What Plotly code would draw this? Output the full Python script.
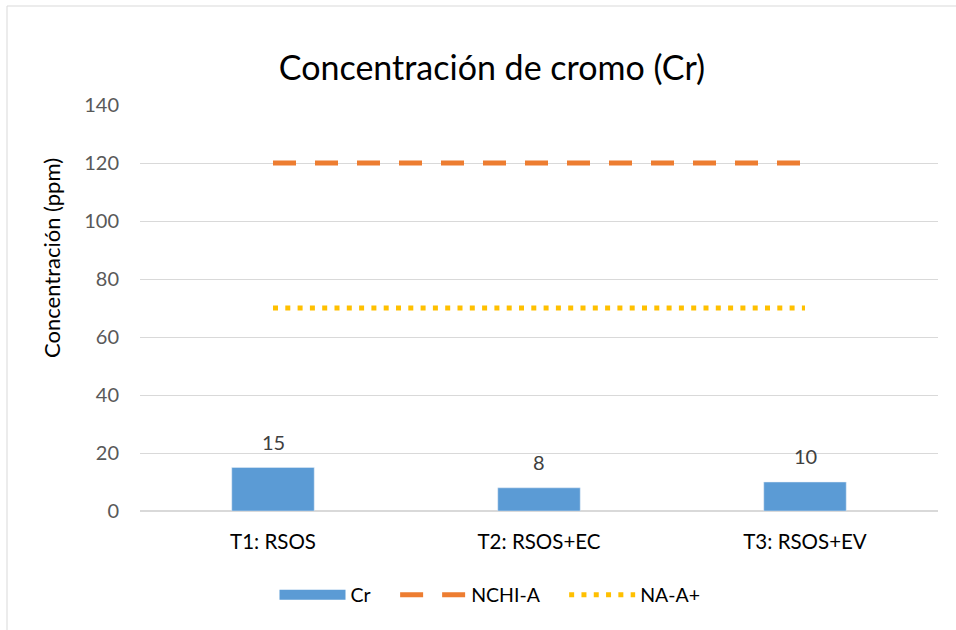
import plotly.graph_objects as go

# Concentración de cromo por tratamiento
tratamientos = ["T1: RSOS", "T2: RSOS+EC", "T3: RSOS+EV"]
cr = [15, 8, 10]
nchi_a = [120, 120, 120]
na_a_plus = [70, 70, 70]

fuente = "Lato"

px_l, px_r, px_t, px_b = 140, 938, 105, 511  # área de trazado en pantalla
ancho_p = px_r - px_l
alto_p = px_b - px_t
relleno = "\u00a0" * 4  # separación entre elementos de la leyenda

fig = go.Figure()

fig.add_trace(go.Bar(x=tratamientos, y=cr, name="Cr", marker_color="#5B9BD5",
                     showlegend=False))
# muestra de leyenda para las barras (rectángulo ancho como en Excel)
fig.add_trace(go.Scatter(x=[None], y=[None], name="Cr" + relleno, mode="lines",
                         line=dict(color="#5B9BD5", width=14)))

fig.add_trace(go.Scatter(x=tratamientos, y=nchi_a, name="NCHI-A" + relleno, mode="lines",
                         line=dict(color="#ED7D31", width=5, dash="23px,19px")))

fig.add_trace(go.Scatter(x=tratamientos, y=na_a_plus, name="NA-A+", mode="lines",
                         line=dict(color="#FFC000", width=5, dash="5px,7.3px")))

# etiquetas de datos
for t, v in zip(tratamientos, cr):
    fig.add_annotation(x=t, y=v, text=str(v), yshift=26, showarrow=False,
                       font=dict(size=20, color="#404040"))

fig.update_layout(
    width=956, height=630,
    margin=dict(l=px_l, r=956 - px_r, t=px_t, b=630 - px_b),
    paper_bgcolor="white", plot_bgcolor="white",
    font=dict(family=fuente, size=20, color="#000000"),
    bargap=0.69,
    title=dict(text="Concentración de cromo (Cr)", x=492 / 956, xanchor="center",
               y=1 - 68 / 630, yanchor="middle",
               font=dict(size=34, color="#000000", family=fuente)),
    showlegend=True,
    legend=dict(orientation="h", x=(490 - px_l) / ancho_p, xanchor="center",
                y=(px_b - 595) / alto_p, yanchor="middle",
                font=dict(size=19.5, color="#000000"), itemwidth=66,
                traceorder="normal"),
)

fig.update_yaxes(range=[0, 140], dtick=20, showgrid=True, gridcolor="#D9D9D9", gridwidth=1,
                 zeroline=True, zerolinecolor="#D9D9D9", showline=False,
                 tickfont=dict(size=20, color="#595959"), ticks="", ticklabelstandoff=20)
fig.update_xaxes(showgrid=False, showline=False, ticks="", ticklabelstandoff=16,
                 tickfont=dict(size=20.5, color="#000000"))

fig.add_annotation(text="Concentración (ppm)", textangle=-90, xref="paper", yref="paper",
                   x=(51 - px_l) / ancho_p, y=(px_b - 258) / alto_p, xanchor="center",
                   yanchor="middle", showarrow=False,
                   font=dict(size=22, color="#000000"))

# marco del área del gráfico
fig.add_shape(type="rect", xref="paper", yref="paper",
              x0=(7 - px_l) / ancho_p, x1=(975 - px_l) / ancho_p,
              y0=(px_b - 650) / alto_p, y1=(px_b - 6) / alto_p,
              line=dict(color="#D9D9D9", width=1), layer="below")

# sin margen en el cuerpo de la página
fig.write_html("out.html", config={"displayModeBar": False},
               post_script="document.body.style.margin='0';")
